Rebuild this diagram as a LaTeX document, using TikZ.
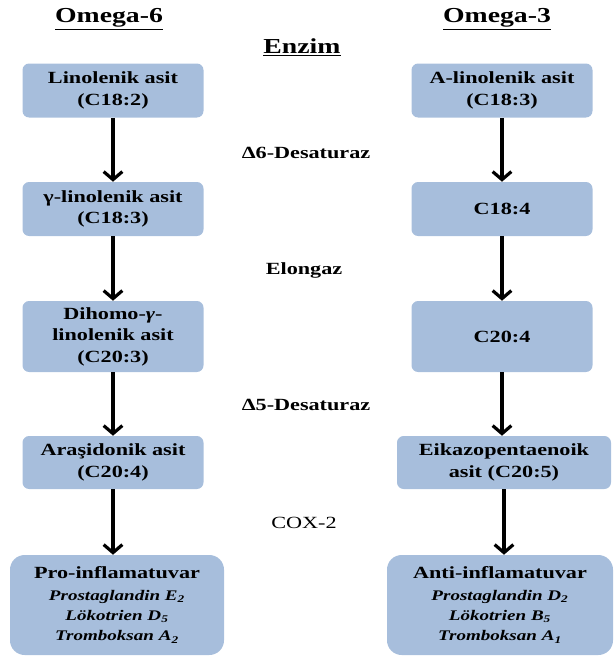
\documentclass[tikz,border=0pt]{standalone}
\usepackage{fontspec}
\setmainfont{Liberation Serif}[FakeStretch=1.3]
\usetikzlibrary{arrows.meta}

\definecolor{boxblue}{RGB}{167,190,220}

\tikzset{
  box/.style={fill=boxblue, rounded corners=5pt, align=center, inner sep=0pt,
    minimum width=135.75pt, minimum height=40.5pt,
    font=\bfseries\fontsize{12.8}{16.2}\selectfont},
  bigbox/.style={box, rounded corners=11pt, minimum height=75pt},
  enz/.style={font=\bfseries\fontsize{12.8}{15}\selectfont},
  head/.style={font=\bfseries\fontsize{16}{18}\selectfont},
  arr/.style={line width=2.4pt, -{Straight Barb[length=6pt,width=14pt]}}
}
\newcommand{\subline}[1]{{\fontsize{11}{14}\selectfont\itshape #1}}

\begin{document}
\begin{tikzpicture}[x=0.75pt,y=-0.75pt]
\useasboundingbox (0,0) rectangle (614,661);

%headers
\node[head] (om6) at (109,19) {\underline{Omega-6}};
\node[head] (om3) at (497,19) {\underline{Omega-3}};
\node[head] (enzim) at (302,47) {\underline{Enzim}};

%omega-6 column
\node[box] (l1) at (113,90.5) {Linolenik asit\\(C18:2)};
\node[box] (l2) at (113,209) {γ-linolenik asit\\(C18:3)};
\node[box, minimum height=53.25pt] (l3) at (113,336.5) {Dihomo-{\itshape γ}-\\linolenik asit\\(C20:3)};
\node[box, minimum height=39.75pt] (l4) at (113,462.5) {Araşidonik asit\\(C20:4)};
\node[bigbox, minimum width=160.5pt] (l5) at (117,605) {Pro-inflamatuvar\\
  \subline{Prostaglandin E\textsubscript{2}}\\[-1pt]
  \subline{Lökotrien D\textsubscript{5}}\\[-1pt]
  \subline{Tromboksan A\textsubscript{2}}};

%omega-3 column
\node[box] (r1) at (502,90.5) {A-linolenik asit\\(C18:3)};
\node[box] (r2) at (502,209) {C18:4};
\node[box, minimum height=53.25pt] (r3) at (502,336.5) {C20:4};
\node[box, minimum width=160.5pt, minimum height=39.75pt] (r4) at (504,462.5) {Eikazopentaenoik\\asit (C20:5)};
\node[bigbox, minimum width=169.5pt] (r5) at (500,605) {Anti-inflamatuvar\\
  \subline{Prostaglandin D\textsubscript{2}}\\[-1pt]
  \subline{Lökotrien B\textsubscript{5}}\\[-1pt]
  \subline{Tromboksan A\textsubscript{1}}};

%arrows
\foreach \a/\b in {l1/l2, l2/l3, l3/l4, l4/l5, r1/r2, r2/r3, r3/r4, r4/r5}
  \draw[arr] (\a.south) -- (\a.south |- \b.north);

%enzymes
\node[enz] (d6) at (306,153) {Δ6-Desaturaz};
\node[enz] (elo) at (304,270) {Elongaz};
\node[enz] (d5) at (306,405) {Δ5-Desaturaz};
\node[enz, font=\fontsize{12.8}{15}\selectfont] (cox) at (304,523) {COX-2};

\end{tikzpicture}
\end{document}
